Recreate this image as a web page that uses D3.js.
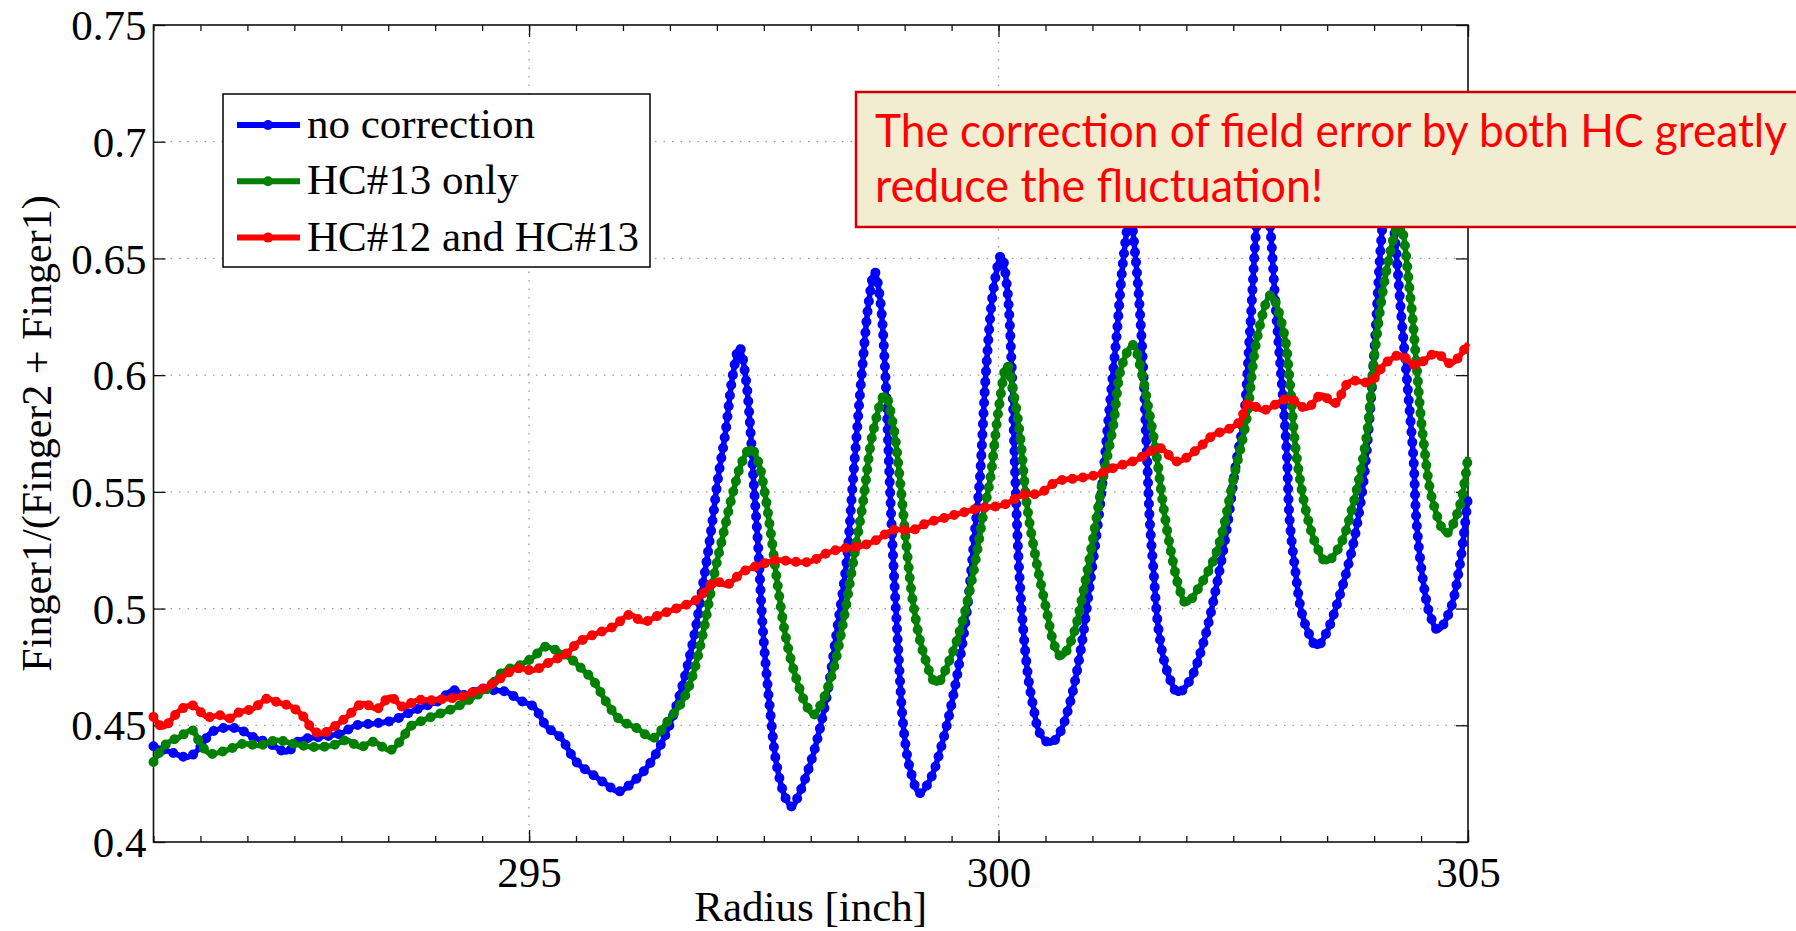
<!DOCTYPE html>
<html lang="en">
<head>
<meta charset="utf-8">
<title>Finger1/(Finger2 + Finger1) vs Radius</title>
<script type="text/javascript" src="https://cdn.jsdelivr.net/npm/d3@7"></script>
<style type="text/css">
  body {
    margin: 0;
    background: #fff;
  }
  svg {
    display: block;
  }
</style>
</head>
<body>
<script type="text/javascript">

// values, [radius in inch, Finger1/(Finger2 + Finger1)]
var noCorrection = [
  [291.00,0.441],[291.18,0.4386],[291.37,0.4364],[291.50,0.4407],[291.60,0.4464],[291.71,0.4486],
  [291.89,0.4486],[292.06,0.445],[292.24,0.4421],[292.42,0.4386],[292.56,0.4436],[292.77,0.445],
  [292.99,0.4464],[293.16,0.450],[293.34,0.4507],[293.55,0.4521],[293.70,0.455],[293.87,0.4579],
  [294.05,0.4607],[294.19,0.465],[294.33,0.4628],[294.48,0.4657],[294.62,0.465],[294.76,0.4643],
  [294.90,0.4607],[295.05,0.4579],[295.19,0.4493],[295.33,0.445],[295.51,0.434],[295.68,0.4288],
  [295.83,0.4245],[295.95,0.4216],[296.11,0.4259],[296.29,0.4338],[296.46,0.4466],[296.61,0.4637],
  [296.75,0.4866],[296.86,0.5123],[296.94,0.5337],[297.01,0.5551],[297.09,0.575],[297.17,0.600],
  [297.24,0.612],[297.31,0.598],[297.36,0.575],[297.39,0.5551],[297.44,0.5265],[297.49,0.4909],
  [297.57,0.4552],[297.64,0.4323],[297.74,0.4181],[297.80,0.4152],[297.88,0.421],[298.03,0.4381],
  [298.17,0.4623],[298.28,0.4909],[298.38,0.5194],[298.45,0.5551],[298.55,0.6036],[298.62,0.632],
  [298.68,0.6443],[298.74,0.632],[298.79,0.6036],[298.84,0.5551],[298.88,0.5194],[298.93,0.4837],
  [298.99,0.448],[299.06,0.4309],[299.16,0.4209],[299.27,0.4266],[299.41,0.4438],[299.55,0.4694],
  [299.66,0.498],[299.75,0.5337],[299.80,0.5551],[299.87,0.6036],[299.95,0.638],[300.03,0.6514],
  [300.09,0.638],[300.14,0.6036],[300.17,0.5665],[300.21,0.5237],[300.26,0.4923],[300.32,0.4694],
  [300.37,0.458],[300.44,0.4466],[300.55,0.4423],[300.65,0.4466],[300.76,0.4595],[300.87,0.4809],
  [300.97,0.5094],[301.08,0.5437],[301.17,0.5808],[301.26,0.618],[301.33,0.650],[301.40,0.668],
  [301.46,0.650],[301.52,0.618],[301.58,0.5665],[301.61,0.538],[301.65,0.5165],[301.70,0.4923],
  [301.77,0.4766],[301.86,0.4666],[301.91,0.4637],[302.04,0.4694],[302.18,0.4851],[302.32,0.5094],
  [302.43,0.5337],[302.53,0.5623],[302.61,0.5808],[302.68,0.620],[302.75,0.665],[302.82,0.688],
  [302.89,0.665],[302.95,0.630],[303.02,0.595],[303.07,0.5665],[303.10,0.538],[303.16,0.5165],
  [303.23,0.498],[303.32,0.488],[303.39,0.4837],[303.49,0.4894],[303.63,0.5051],[303.78,0.528],
  [303.88,0.5522],[303.95,0.5808],[304.01,0.615],[304.08,0.660],[304.15,0.686],[304.22,0.660],
  [304.28,0.630],[304.35,0.598],[304.42,0.5637],[304.45,0.538],[304.52,0.5123],[304.59,0.498],
  [304.68,0.4908],[304.81,0.4994],[304.91,0.518],[305.00,0.548]
];

var hc13Only = [
  [291.00,0.4343],[291.14,0.4421],[291.28,0.445],[291.41,0.4479],[291.50,0.4421],[291.60,0.4379],
  [291.78,0.4393],[291.96,0.4421],[292.13,0.4414],[292.31,0.4436],[292.49,0.4421],[292.70,0.4407],
  [292.91,0.4414],[293.06,0.4436],[293.20,0.4407],[293.34,0.4429],[293.52,0.4393],[293.66,0.445],
  [293.73,0.4493],[293.87,0.4521],[294.05,0.455],[294.23,0.4579],[294.41,0.4621],[294.58,0.4664],
  [294.72,0.4729],[294.90,0.4757],[295.05,0.4793],[295.17,0.4836],[295.29,0.4821],[295.44,0.4786],
  [295.54,0.475],[295.68,0.4694],[295.83,0.4595],[295.97,0.4523],[296.15,0.4487],[296.32,0.4445],
  [296.46,0.4509],[296.64,0.4609],[296.75,0.4723],[296.86,0.4909],[296.96,0.5123],[297.07,0.5322],
  [297.17,0.5494],[297.27,0.563],[297.36,0.5687],[297.44,0.563],[297.50,0.552],[297.57,0.5337],
  [297.64,0.5123],[297.74,0.4866],[297.85,0.4694],[297.96,0.458],[298.03,0.4545],[298.13,0.4609],
  [298.24,0.4737],[298.35,0.4951],[298.45,0.5194],[298.56,0.5465],[298.66,0.575],[298.79,0.5915],
  [298.88,0.578],[298.95,0.5551],[299.02,0.5265],[299.09,0.5023],[299.20,0.4809],[299.34,0.468],
  [299.48,0.478],[299.62,0.4951],[299.73,0.5151],[299.84,0.5408],[299.91,0.5551],[300.00,0.585],
  [300.09,0.6043],[300.17,0.590],[300.23,0.5737],[300.30,0.5451],[300.40,0.5208],[300.51,0.4994],
  [300.60,0.4837],[300.67,0.4794],[300.79,0.488],[300.90,0.5066],[301.01,0.5308],[301.11,0.5551],
  [301.22,0.578],[301.31,0.6036],[301.43,0.6129],[301.53,0.600],[301.60,0.585],[301.68,0.5665],
  [301.75,0.5451],[301.84,0.5237],[301.93,0.508],[302.00,0.5023],[302.14,0.5094],[302.29,0.5208],
  [302.39,0.5337],[302.50,0.5551],[302.64,0.5808],[302.75,0.615],[302.90,0.6343],[303.04,0.618],
  [303.10,0.598],[303.17,0.5665],[303.28,0.5408],[303.39,0.5265],[303.49,0.5201],[303.63,0.5265],
  [303.78,0.5451],[303.92,0.5737],[304.01,0.6108],[304.14,0.6465],[304.27,0.665],[304.39,0.632],
  [304.45,0.605],[304.52,0.5737],[304.63,0.5451],[304.77,0.5323],[304.91,0.5437],[305.00,0.565]
];

var hc12and13 = [
  [291.00,0.4536],[291.10,0.4493],[291.28,0.4564],[291.41,0.4586],[291.57,0.4536],[291.71,0.4543],
  [291.81,0.4529],[291.92,0.4557],[292.06,0.4571],[292.21,0.4614],[292.31,0.460],[292.47,0.4579],
  [292.60,0.4536],[292.70,0.4479],[292.79,0.4464],[292.92,0.4493],[293.06,0.4536],[293.23,0.4593],
  [293.38,0.4571],[293.52,0.4621],[293.66,0.4579],[293.80,0.4607],[293.98,0.4607],[294.12,0.4614],
  [294.26,0.4621],[294.41,0.4643],[294.55,0.4664],[294.69,0.470],[294.87,0.4743],[295.05,0.4736],
  [295.22,0.4771],[295.40,0.4807],[295.51,0.4851],[295.68,0.4887],[295.90,0.4923],[296.07,0.4973],
  [296.22,0.4944],[296.39,0.4973],[296.57,0.5001],[296.78,0.5037],[296.99,0.5116],[297.10,0.5101],
  [297.28,0.5158],[297.46,0.5187],[297.64,0.5208],[297.81,0.5201],[297.99,0.5201],[298.17,0.5237],
  [298.35,0.5258],[298.52,0.5266],[298.70,0.5294],[298.88,0.5337],[299.09,0.5337],[299.23,0.5365],
  [299.41,0.5387],[299.59,0.5408],[299.80,0.543],[300.05,0.5444],[300.26,0.5487],[300.44,0.5494],
  [300.62,0.5544],[300.83,0.5558],[301.04,0.5572],[301.26,0.5608],[301.47,0.5637],[301.72,0.5687],
  [301.90,0.563],[302.11,0.568],[302.29,0.5744],[302.43,0.5765],[302.57,0.5801],[302.66,0.5879],
  [302.82,0.585],[303.09,0.590],[303.28,0.5858],[303.44,0.5915],[303.58,0.5879],[303.74,0.5972],
  [303.96,0.5972],[304.12,0.605],[304.28,0.6086],[304.44,0.6043],[304.66,0.6093],[304.82,0.605],
  [305.00,0.6136]
];

var seriesNames = ["no correction", "HC#13 only", "HC#12 and HC#13"];
var seriesColors = ["#0000ff", "#008000", "#ff0000"];
var xTicks = [295, 300, 305];
var yTicks = [0.4, 0.45, 0.5, 0.55, 0.6, 0.65, 0.7, 0.75];
var noteLines = ["The correction of field error by both HC greatly", "reduce the fluctuation!"];

var w = 1796;
var h = 931;
// plot frame in page pixels (note: "top" is taken by window.top)
var plotLeft = 153.5, plotRight = 1468, plotTop = 25, plotBottom = 842;
var serif = "'Liberation Serif', 'Times New Roman', serif";

var svg = d3.select("body")
            .append("svg")
            .attr("width", w)
            .attr("height", h);

var xScale = d3.scaleLinear().domain([291, 305]).range([plotLeft, plotRight]);
var yScale = d3.scaleLinear().domain([0.4, 0.75]).range([plotBottom, plotTop]);

//dotted grid
var grid = svg.append("g")
              .attr("stroke", "#9a9a9a")
              .attr("stroke-width", 1.3)
              .attr("stroke-dasharray", "1.5 7");

grid.selectAll("line.gy")
    .data(yTicks.slice(1, -1))
    .enter()
    .append("line")
    .attr("x1", plotLeft).attr("x2", plotRight)
    .attr("y1", function(d) { return yScale(d); })
    .attr("y2", function(d) { return yScale(d); });

grid.selectAll("line.gx")
    .data(xTicks.slice(0, -1))
    .enter()
    .append("line")
    .attr("y1", plotTop).attr("y2", plotBottom)
    .attr("x1", function(d) { return xScale(d); })
    .attr("x2", function(d) { return xScale(d); });

//axes, ticks point inward like matlab
var fmtY = function(d) { return String(+d.toFixed(2)); };
var minorX = d3.range(291, 305.001, 0.5);

var gLeft = svg.append("g")
   .attr("transform", "translate(" + plotLeft + ",0)")
   .call(d3.axisLeft(yScale).tickValues(yTicks).tickSize(-12).tickPadding(7).tickFormat(fmtY));

var gRight = svg.append("g")
   .attr("transform", "translate(" + plotRight + ",0)")
   .call(d3.axisRight(yScale).tickValues(yTicks).tickSize(-12).tickFormat(""));

var gBottomMinor = svg.append("g")
   .attr("transform", "translate(0," + plotBottom + ")")
   .call(d3.axisBottom(xScale).tickValues(minorX).tickSize(-6).tickFormat(""));

var gBottom = svg.append("g")
   .attr("transform", "translate(0," + plotBottom + ")")
   .call(d3.axisBottom(xScale).tickValues(xTicks).tickSize(-12).tickPadding(14).tickFormat(d3.format("d")));

var gTopMinor = svg.append("g")
   .attr("transform", "translate(0," + plotTop + ")")
   .call(d3.axisTop(xScale).tickValues(minorX).tickSize(-6).tickFormat(""));

var gTop = svg.append("g")
   .attr("transform", "translate(0," + plotTop + ")")
   .call(d3.axisTop(xScale).tickValues(xTicks).tickSize(-12).tickFormat(""));

[gLeft, gRight, gBottomMinor, gBottom, gTopMinor, gTop].forEach(function(g) {
  g.select(".domain").remove();
  g.attr("font-family", serif).attr("font-size", 43);
  g.selectAll(".tick line").attr("stroke", "#111").attr("stroke-width", 1.3);
  g.selectAll(".tick text").attr("fill", "#000");
});

gLeft.selectAll(".tick text").attr("dy", "0.34em");

//frame
svg.append("rect")
   .attr("x", plotLeft).attr("y", plotTop)
   .attr("width", plotRight - plotLeft).attr("height", plotBottom - plotTop)
   .attr("fill", "none")
   .attr("stroke", "#111")
   .attr("stroke-width", 1.6);

//axis labels
svg.append("text")
   .attr("x", (plotLeft + plotRight) / 2)
   .attr("y", 921)
   .attr("text-anchor", "middle")
   .attr("font-family", serif)
   .attr("font-size", 43)
   .text("Radius [inch]");

svg.append("text")
   .attr("transform", "translate(51," + ((plotTop + plotBottom) / 2) + ") rotate(-90)")
   .attr("text-anchor", "middle")
   .attr("font-family", serif)
   .attr("font-size", 42)
   .text("Finger1/(Finger2 + Finger1)");

//lines with dot markers
var line = d3.line()
             .x(function(d) { return xScale(d[0]); })
             .y(function(d) { return yScale(d[1]); })
             .curve(d3.curveCatmullRom.alpha(0.5));

var allSeries = [noCorrection, hc13Only, hc12and13];

var series = svg.selectAll("g.series")
                .data(allSeries)
                .enter()
                .append("g")
                .attr("class", "series");

series.append("path")
      .attr("d", function(d) { return line(d); })
      .attr("fill", "none")
      .attr("stroke", function(d, i) { return seriesColors[i]; })
      .attr("stroke-width", 5.5)
      .attr("stroke-linejoin", "round");

series.append("path")
      .attr("d", function(d) { return line(d); })
      .attr("fill", "none")
      .attr("stroke", function(d, i) { return seriesColors[i]; })
      .attr("stroke-width", 10)
      .attr("stroke-linecap", "round")
      .attr("stroke-dasharray", "0 10.5");

//legend
var legend = svg.append("g").attr("transform", "translate(223,94)");

legend.append("rect")
      .attr("width", 427).attr("height", 173)
      .attr("fill", "#fff")
      .attr("stroke", "#000")
      .attr("stroke-width", 1.5);

var entry = legend.selectAll("g.entry")
                  .data(seriesNames)
                  .enter()
                  .append("g")
                  .attr("class", "entry")
                  .attr("transform", function(d, i) { return "translate(0," + (31 + i * 56.3) + ")"; });

entry.append("line")
     .attr("x1", 14).attr("x2", 77)
     .attr("stroke", function(d, i) { return seriesColors[i]; })
     .attr("stroke-width", 6);

entry.append("circle")
     .attr("cx", 45).attr("r", 5)
     .attr("fill", function(d, i) { return seriesColors[i]; });

entry.append("text")
     .attr("x", 84).attr("y", 13)
     .attr("font-family", serif)
     .attr("font-size", 43)
     .text(function(d) { return d; });

//annotation box, runs off the right edge
var note = svg.append("g");

note.append("rect")
    .attr("x", 856).attr("y", 92)
    .attr("width", 1000).attr("height", 135)
    .attr("fill", "#f2ecd0")
    .attr("stroke", "#d00000")
    .attr("stroke-width", 2.5);

var noteWidths = [912, 448];

note.selectAll("text")
    .data(noteLines)
    .enter()
    .append("text")
    .attr("x", 875)
    .attr("y", function(d, i) { return 147 + i * 55; })
    .attr("font-family", "Lato, 'Open Sans', sans-serif")
    .attr("font-size", 46)
    .attr("fill", "#ff0000")
    .attr("textLength", function(d, i) { return noteWidths[i]; })
    .attr("lengthAdjust", "spacingAndGlyphs")
    .text(function(d) { return d; });

</script>
</body>
</html>
